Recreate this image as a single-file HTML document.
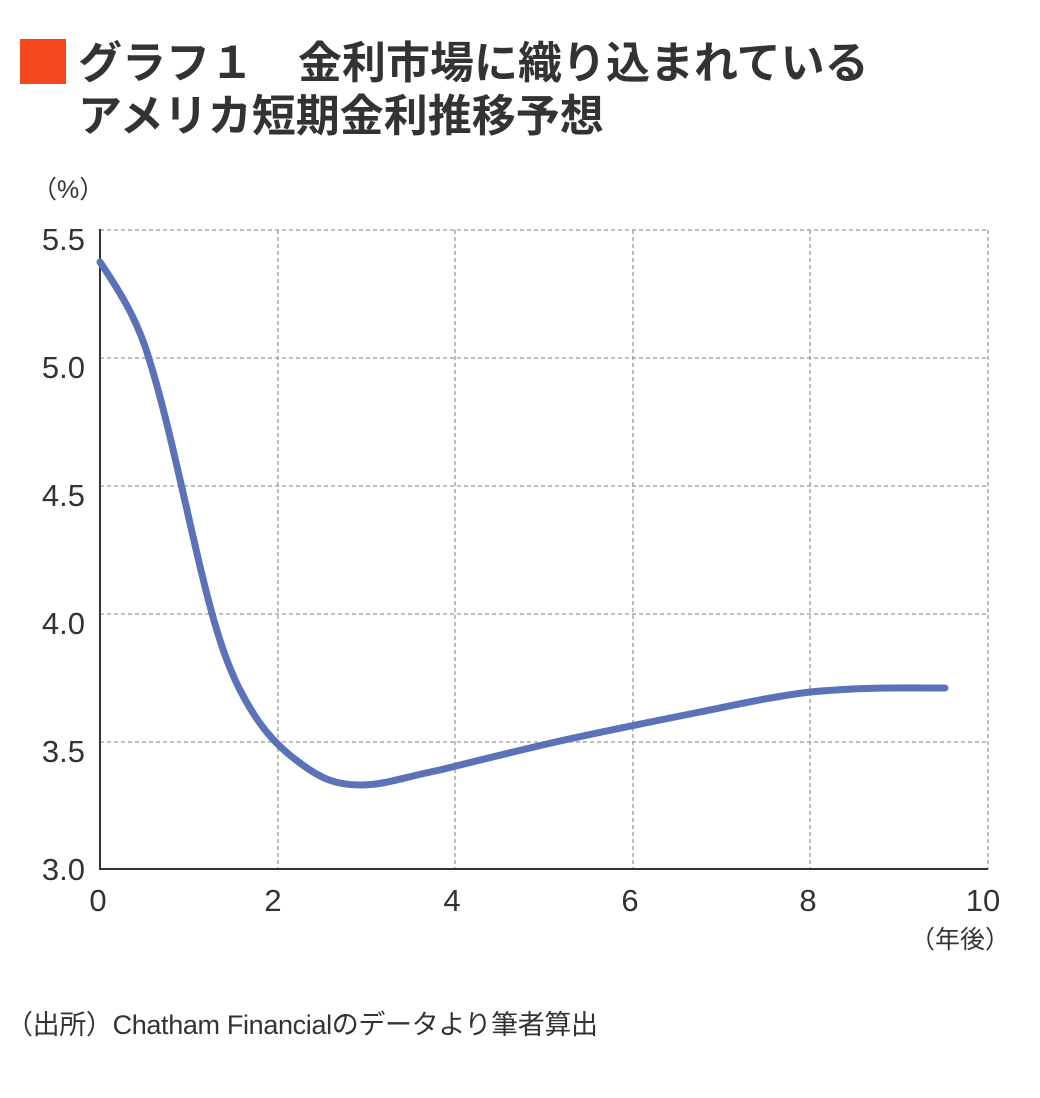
<!DOCTYPE html>
<html><head><meta charset="utf-8"><style>
body{margin:0;background:#fff;}
svg text{font-family:"Liberation Sans","Noto Sans CJK JP",sans-serif;}
</style></head><body>
<svg width="1040" height="1093" xmlns="http://www.w3.org/2000/svg">
<rect x="20" y="39" width="46" height="45" fill="#F4471B"/>
<text x="78" y="78" font-size="44" font-weight="bold" fill="#333">グラフ１　金利市場に織り込まれている</text>
<text x="78" y="131" font-size="44" font-weight="bold" fill="#333">アメリカ短期金利推移予想</text>
<text x="32" y="198" font-size="25" fill="#333">（%）</text>
<g stroke="#999" stroke-width="1.3" stroke-dasharray="4,3" fill="none">
<line x1="100" y1="230" x2="988" y2="230"/>
<line x1="100" y1="358" x2="988" y2="358"/>
<line x1="100" y1="486" x2="988" y2="486"/>
<line x1="100" y1="614" x2="988" y2="614"/>
<line x1="100" y1="742" x2="988" y2="742"/>
<line x1="278" y1="230" x2="278" y2="869"/>
<line x1="455" y1="230" x2="455" y2="869"/>
<line x1="633" y1="230" x2="633" y2="869"/>
<line x1="810" y1="230" x2="810" y2="869"/>
<line x1="988" y1="230" x2="988" y2="869"/>
</g>
<line x1="100" y1="229" x2="100" y2="870" stroke="#333" stroke-width="2"/>
<line x1="99" y1="869" x2="988" y2="869" stroke="#333" stroke-width="2"/>
<g font-size="31" fill="#333" text-anchor="end">
<text x="85" y="250">5.5</text><text x="85" y="378">5.0</text><text x="85" y="506">4.5</text>
<text x="85" y="634">4.0</text><text x="85" y="762">3.5</text><text x="85" y="880">3.0</text>
</g>
<g font-size="31" fill="#333" text-anchor="middle">
<text x="98" y="911">0</text><text x="273" y="911">2</text><text x="452" y="911">4</text>
<text x="630" y="911">6</text><text x="808" y="911">8</text><text x="983" y="911">10</text>
</g>
<text x="1010" y="948" font-size="25" fill="#333" text-anchor="end">（年後）</text>
<text x="6" y="1034" font-size="27" fill="#333" textLength="592">（出所）Chatham Financialのデータより筆者算出</text>
<path d="M100,262 C120,292 138,320 150,362 C165,410 180,480 195,545 C210,610 222,655 240,690 C258,725 275,745 300,763 C320,778 335,785 360,785 C385,785 400,778 440,770 C480,760 520,750 560,741 C600,732 640,724 700,712 C740,704 770,697 810,692 C860,687 900,688 945,688" fill="none" stroke="#5B72B9" stroke-width="7" stroke-linecap="round"/>
</svg>
</body></html>
